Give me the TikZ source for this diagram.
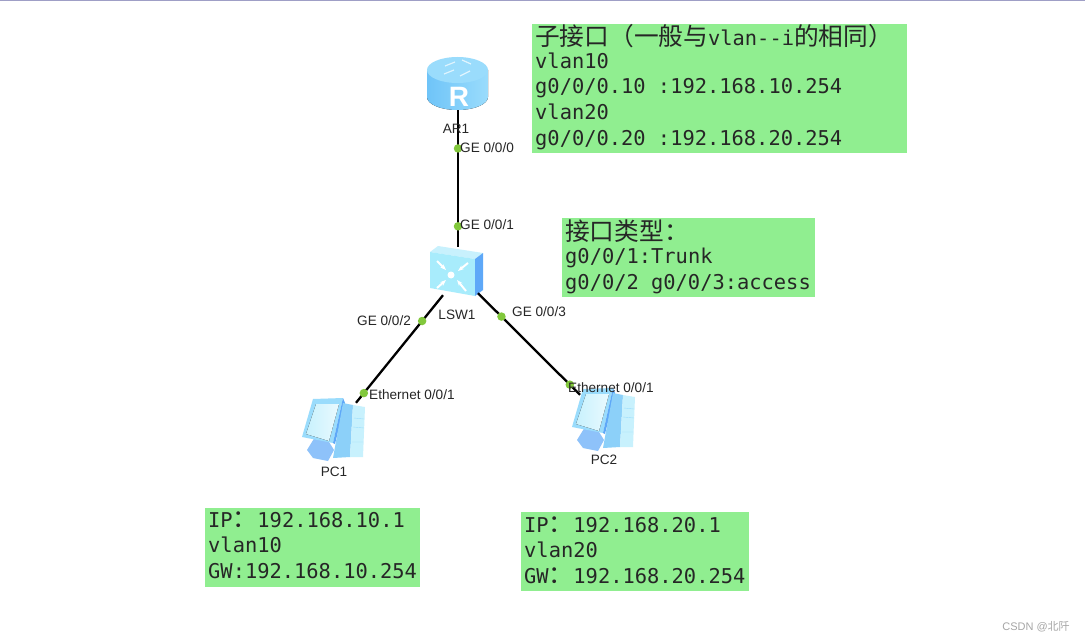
\documentclass[tikz,border=0pt]{standalone}
\usepackage{fontspec}
\setmainfont{Liberation Sans}
\setmonofont{DejaVu Sans Mono}
\newfontfamily\cjk{Noto Sans CJK SC}
\usetikzlibrary{arrows.meta,positioning,calc}
\definecolor{notegreen}{HTML}{90EE90}
\definecolor{portgreen}{HTML}{82C83C}
\definecolor{icona}{HTML}{9ADCFC}
\definecolor{iconb}{HTML}{6FC4F8}
\definecolor{iconc}{HTML}{C8F1FD}
\definecolor{icond}{HTML}{5EA8F8}
\definecolor{icone}{HTML}{A8ECFC}
\newcommand{\zh}[1]{{\cjk\fontsize{24.7}{25.7}\selectfont #1}}
\newcommand{\gap}{\hspace{12.28pt}}
\tikzset{
    pcicon/.pic={
        \fill[icond!70!white] (-26,20) -- (-18,7) -- (-4,12) -- (1,20) -- (-5,31) -- (-20,28) -- cycle;
        \fill[icona] (-20,-31) -- (10,-32) -- (0,13) -- (-31,7) -- cycle;
        \fill[left color=iconc, right color=white!60!iconc] (-17,-26) -- (6,-26) -- (-4,11) -- (-27,4) -- cycle;
        \fill[icond] (10,-32) -- (12,-27) -- (2,14) -- (0,13) -- cycle;
        \fill[iconb!80!white] (10,-27) -- (20,-25) -- (17,27) -- (0,28) -- cycle;
        \fill[iconc] (20,-25) -- (32,-23) -- (30,27) -- (17,27) -- cycle;
        \draw[icona] (21,-12) -- (31,-11) (20,-3) -- (31,-2) (19,12) -- (30,12);
    }
}
\begin{document}
\begin{tikzpicture}[
    x=1pt, y=-1pt,
    font=\fontsize{13.6}{15}\selectfont,
    device/.style={inner sep=0pt, minimum width=#1},
    note/.style={fill=notegreen, anchor=north west, align=left, inner xsep=3pt, inner ysep=0pt,
        text=black!85, font=\ttfamily\fontsize{20.4}{25.7}\selectfont},
    link/.style={line width=2.3pt, black},
    port/.style={circle, fill=portgreen, inner sep=0pt, minimum size=8.5pt},
    lbl/.style={inner sep=0pt, text=black!85}
]
\useasboundingbox (0,0) rectangle (1085,642);
\fill[white] (0,0) rectangle (1085,642);
\fill[gray!75!blue!60] (0,0) rectangle (1085,1.5);

% devices
\node[device=62pt, minimum height=54pt] (ar1) at (458,83) {};
\node[device=54pt, minimum height=50pt] (lsw1) at (458,272) {};
\node[device=64pt, minimum height=60pt] (pc1) at (333,430) {};
\node[device=64pt, minimum height=60pt] (pc2) at (603,420) {};

% router
\fill[left color=iconb, right color=icona] (427,70) -- (427,97) arc[start angle=180, end angle=0, x radius=30.5, y radius=13] -- (488,70) -- cycle;
\fill[icona] (457.5,70) ellipse[x radius=30.5, y radius=13];
\draw[white, opacity=.7, line width=1.2pt] (445,66) -- (455,62) (462,60) -- (471,64) (444,74) -- (454,70) (460,76) -- (470,71);
\node[white, inner sep=0pt, font=\bfseries\fontsize{28}{28}\selectfont] (rmark) at (459,97) {R};

% switch
\fill[iconc] (430,252) -- (438,246) -- (483,253) -- (475,259) -- cycle;
\fill[icone] (430,252) -- (475,259) -- (475,296) -- (430,288) -- cycle;
\fill[icond] (475,259) -- (483,253) -- (483,290) -- (475,296) -- cycle;
\fill[white] (451,275) circle[radius=3.5];
\draw[white, line width=2pt, -{Stealth[length=6pt]}] (437,261) -- (446,270);
\draw[white, line width=2pt, -{Stealth[length=6pt]}] (468,263) -- (458,271);
\draw[white, line width=2pt, -{Stealth[length=6pt]}] (437,288) -- (446,280);
\draw[white, line width=2pt, -{Stealth[length=6pt]}] (466,291) -- (457,280);

% hosts
\pic at (pc1) {pcicon};
\pic at (pc2) {pcicon};

% links
\draw[link] (ar1.south) -- node[port, pos=.28] (p0) {} node[port, pos=.85] (p1) {} (lsw1.north);
\draw[link] ([xshift=-15pt, yshift=2pt]lsw1.south) -- node[port, pos=.24] (p2) {} node[port, pos=.91] (p3) {} ([xshift=23pt, yshift=-3pt]pc1.north);
\draw[link] ([xshift=20pt, yshift=4pt]lsw1.south) -- node[port, pos=.23] (p4) {} node[port, pos=.90] (p5) {} ([xshift=-23pt, yshift=-5pt]pc2.north);

% labels
\node[lbl] (ar1t) at (456,129) {AR1};
\node[lbl] (lsw1t) at (457,315) {LSW1};
\node[lbl] (pc1t) at (334,472) {PC1};
\node[lbl] (pc2t) at (604,460) {PC2};
\node[lbl, anchor=west] (l0) at (460,148) {GE 0/0/0};
\node[lbl, anchor=west] (l1) at (460,225) {GE 0/0/1};
\node[lbl, anchor=west] (l2) at (357,321) {GE 0/0/2};
\node[lbl, anchor=west] (l3) at (512,312) {GE 0/0/3};
\node[lbl, anchor=west] (l4) at (369,395) {Ethernet 0/0/1};
\node[lbl, anchor=west] (l5) at (568,388) {Ethernet 0/0/1};

% notes
\node[note, minimum width=375pt, text height=18.3pt, text depth=110.7pt, text width=369pt] (n1) at (532,24)
    {\raisebox{-3pt}{\zh{子接口（一般与}vlan-{}-i\zh{的相同）}}\\vlan10\\g0/0/0.10\gap:192.168.10.254\\vlan20\\g0/0/0.20\gap:192.168.20.254};
\node[note, minimum width=253pt, text height=20pt, text depth=59pt, text width=247pt] (n2) at (562,218)
    {\raisebox{-2pt}{\zh{接口类型：}}\\g0/0/1:Trunk\\g0/0/2\gap g0/0/3:access};
\node[note, minimum width=215pt, text height=19pt, text depth=60pt, text width=209pt] (n3) at (205,508)
    {IP\zh{：}192.168.10.1\\vlan10\\GW:192.168.10.254};
\node[note, minimum width=228pt, text height=20pt, text depth=59pt, text width=222pt] (n4) at (521,512)
    {IP\zh{：}192.168.20.1\\vlan20\\GW\zh{：}192.168.20.254};

\node[lbl, text=gray!70, font=\fontsize{11}{12}\selectfont] (mark) at (1036,627) {CSDN @{\cjk 北阡}};
\end{tikzpicture}
\end{document}
